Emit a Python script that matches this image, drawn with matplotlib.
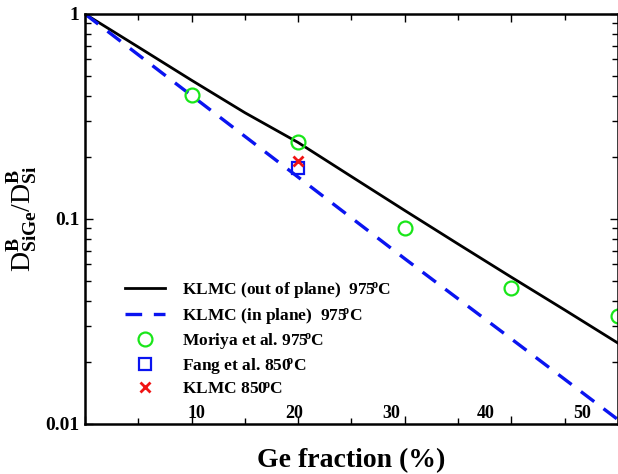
import matplotlib
matplotlib.use("Agg")
import matplotlib.pyplot as plt
from matplotlib.ticker import MultipleLocator, LogLocator, NullFormatter

plt.rcParams['font.family'] = ['Liberation Serif', 'DejaVu Serif']
plt.rcParams['font.weight'] = 'bold'
plt.rcParams['mathtext.fontset'] = 'custom'
plt.rcParams['mathtext.rm'] = 'Liberation Serif:bold'
plt.rcParams['mathtext.it'] = 'Liberation Serif:bold'
plt.rcParams['mathtext.bf'] = 'Liberation Serif:bold'

# KLMC out of plane (975 C)
x_out = [0, 5, 10, 15, 20, 25, 30, 35, 40, 45, 50]
y_out = [1.0, 0.69, 0.475, 0.33, 0.236, 0.161, 0.110, 0.0755, 0.0520, 0.0360, 0.0248]
# KLMC in plane (975 C)
x_in = [0, 10, 20, 30, 40, 50]
y_in = [1.0, 0.40, 0.16, 0.064, 0.026, 0.0105]
# Moriya et al. 975 C
x_mor = [10, 20, 30, 40, 50]
y_mor = [0.403, 0.237, 0.0904, 0.046, 0.0336]
# Fang et al. 850 C
x_fang = [20]
y_fang = [0.177]
# KLMC 850 C
x_k850 = [20]
y_k850 = [0.192]

xtick_labels = ['10', '20', '30', '40', '50']
xtick_label_pos = [10.5, 19.6, 28.7, 37.6, 46.6]

deg = '$5^{\\!\\!o}$'
deg0 = '$0^{\\!\\!o}$'

fig = plt.figure(figsize=(6.18, 4.74), dpi=100)
ax = fig.add_axes([0.1375, 0.1055, 0.8625, 0.865])

ax.plot(x_out, y_out, color='black', lw=2.0, label='KLMC (out of plane)  97' + deg + 'C')
ax.plot(x_in, y_in, color='#0a14f0', lw=2.4, dashes=(5, 3.5),
        label='KLMC (in plane)  97' + deg + 'C')
ax.plot(x_mor, y_mor, ls='none', marker='o', ms=10, mfc='none', mec='#19e619', mew=1.6,
        label='Moriya et al. 97' + deg + 'C', clip_on=False)
ax.plot(x_fang, y_fang, ls='none', marker='s', ms=8, mfc='none', mec='#0a14f0', mew=1.6,
        label='Fang et al. 85' + deg0 + 'C')
ax.plot(x_k850, y_k850, ls='none', marker='x', ms=7, mec='#f01414', mew=2,
        label='KLMC 85' + deg0 + 'C')

ax.set_yscale('log')
ax.set_xlim(0, 50)
ax.set_ylim(0.01, 1)

ax.xaxis.set_major_locator(MultipleLocator(10))
ax.xaxis.set_minor_locator(MultipleLocator(5))
ax.xaxis.set_major_formatter(NullFormatter())
ax.yaxis.set_minor_locator(LogLocator(base=10, subs=range(2, 10)))
ax.yaxis.set_minor_formatter(NullFormatter())
ax.set_yticks([0.01, 0.1, 1])
ax.set_yticklabels(['0.01', '0.1', '1'])

ax.tick_params(which='both', direction='in', top=True, right=True)
ax.tick_params(which='major', length=6, width=1.0)
ax.tick_params(which='minor', length=4, width=1.0)
ax.tick_params(axis='y', which='major', labelsize=14, pad=4)
for lab in ax.get_yticklabels():
    lab.set_fontweight('bold')

for s in ax.spines.values():
    s.set_linewidth(1.8)

for pos, lab in zip(xtick_label_pos, xtick_labels):
    ax.text(pos, 0.004, lab, transform=ax.get_xaxis_transform(), ha='center', va='bottom',
            fontsize=13, fontweight='bold')

ax.set_xlabel('Ge fraction (%)', fontsize=20, fontweight='bold', labelpad=14)
ax.set_ylabel('D$^{B}_{SiGe}$/D$^{B}_{Si}$', fontsize=20, labelpad=4)

leg = ax.legend(loc='upper left', bbox_to_anchor=(0.075, 0.35), frameon=False,
                fontsize=12.5, handlelength=2.3, handletextpad=1.0, labelspacing=0.3,
                borderaxespad=0, borderpad=0)

fig.savefig('out.png', dpi=100)
